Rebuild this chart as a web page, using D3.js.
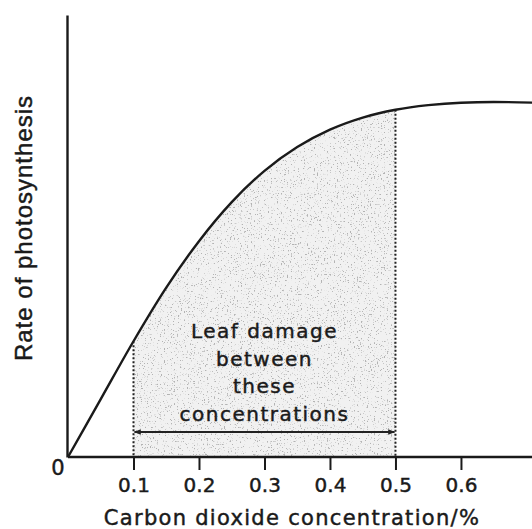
<!DOCTYPE html>
<html>
<head>
<meta charset="utf-8">
<script src="https://cdn.jsdelivr.net/npm/d3@7"></script>
<style>
  body { margin: 0; background: #fff; }
  svg { display: block; }
  text { stroke: #1a1a1a; stroke-width: 0.45px; }
</style>
</head>
<body>
<div id="chart"></div>
<script>
// chart size
var w = 532;
var h = 529;

// data (rate in arbitrary units, plateau ~100)
var conc = [0, 0.05, 0.1, 0.15, 0.2, 0.25, 0.3, 0.35, 0.4, 0.45, 0.5, 0.55, 0.6, 0.65, 0.71];
var rate = [0, 16.3, 32.6, 47.7, 60.8, 71.8, 80.6, 87.3, 92.2, 95.6, 97.8, 99.1, 99.8, 100, 99.8];
var xTicks = [0.1, 0.2, 0.3, 0.4, 0.5, 0.6];
var damageRange = [0.1, 0.5];
var noteLines = ["Leaf damage", "between", "these", "concentrations"];

var points = conc.map(function(c, i) { return { x: c, y: rate[i] }; });

// scales
var xScale = d3.scaleLinear().domain([0, 0.71]).range([68, 533]);
var yScale = d3.scaleLinear().domain([0, 124.5]).range([457, 15]);

var svg = d3.select("#chart")
  .append("svg")
  .attr("width", w)
  .attr("height", h);

var defs = svg.append("defs");

// speckled fill like the printed stipple
var f = defs.append("filter")
  .attr("id", "stipple")
  .attr("x", 0).attr("y", 0).attr("width", 1).attr("height", 1);
f.append("feTurbulence")
  .attr("type", "fractalNoise")
  .attr("baseFrequency", 0.7)
  .attr("numOctaves", 2)
  .attr("seed", 4)
  .attr("result", "noise");
f.append("feColorMatrix")
  .attr("in", "noise")
  .attr("type", "matrix")
  .attr("values", "0 0 0 0 0.45  0 0 0 0 0.45  0 0 0 0 0.45  9 0 0 0 -5.6")
  .attr("result", "dots");
f.append("feComposite")
  .attr("in", "dots")
  .attr("in2", "SourceGraphic")
  .attr("operator", "in");

defs.append("clipPath")
  .attr("id", "damageClip")
  .append("rect")
  .attr("x", xScale(damageRange[0]))
  .attr("y", 0)
  .attr("width", xScale(damageRange[1]) - xScale(damageRange[0]))
  .attr("height", yScale(0));

defs.append("marker")
  .attr("id", "arrow")
  .attr("viewBox", "0 0 10 10")
  .attr("refX", 9)
  .attr("refY", 5)
  .attr("markerWidth", 10)
  .attr("markerHeight", 7)
  .attr("markerUnits", "userSpaceOnUse")
  .attr("orient", "auto-start-reverse")
  .append("path")
  .attr("d", "M0,1 L10,5 L0,9 Z")
  .attr("fill", "#222");

var area = d3.area()
  .x(function(d) { return xScale(d.x); })
  .y0(yScale(0))
  .y1(function(d) { return yScale(d.y); })
  .curve(d3.curveMonotoneX);

var line = d3.line()
  .x(function(d) { return xScale(d.x); })
  .y(function(d) { return yScale(d.y); })
  .curve(d3.curveMonotoneX);

// shaded damage band
var band = svg.append("g").attr("clip-path", "url(#damageClip)");
band.append("path")
  .datum(points)
  .attr("d", area)
  .attr("fill", "#f1f1f1");
band.append("path")
  .datum(points)
  .attr("d", area)
  .attr("fill", "#fff")
  .attr("filter", "url(#stipple)");

// dotted verticals at the edges of the band
function rateAt(c) {
  var i = d3.bisector(function(d) { return d.x; }).left(points, c);
  if (points[i].x === c) return points[i].y;
  var a = points[i - 1], b = points[i];
  return a.y + (b.y - a.y) * (c - a.x) / (b.x - a.x);
}
svg.selectAll(".edge")
  .data(damageRange)
  .enter()
  .append("line")
  .attr("class", "edge")
  .attr("x1", function(d) { return xScale(d); })
  .attr("x2", function(d) { return xScale(d); })
  .attr("y1", function(d) { return yScale(rateAt(d)); })
  .attr("y2", yScale(0))
  .attr("stroke", "#222")
  .attr("stroke-width", 2)
  .attr("stroke-dasharray", "2,2");

// the curve
svg.append("path")
  .datum(points)
  .attr("d", line)
  .attr("fill", "none")
  .attr("stroke", "#1a1a1a")
  .attr("stroke-width", 2.4);

// x axis
var xAxis = svg.append("g")
  .attr("transform", "translate(0," + yScale(0) + ")")
  .call(d3.axisBottom(xScale)
    .tickValues(xTicks)
    .tickSize(13)
    .tickPadding(8)
    .tickFormat(d3.format(".1f")));
xAxis.select(".domain")
  .attr("d", "M" + xScale(0) + ",0H" + w)
  .attr("stroke", "#1a1a1a")
  .attr("stroke-width", 2.4);
xAxis.selectAll(".tick line")
  .attr("stroke", "#1a1a1a")
  .attr("stroke-width", 2);
xAxis.selectAll("text")
  .attr("fill", "#1a1a1a")
  .style("font-family", "DejaVu Sans")
  .style("font-size", "20px");

// y axis (bare line, no ticks)
svg.append("g")
  .attr("transform", "translate(" + (xScale(0) - 1) + ",0)")
  .call(d3.axisLeft(yScale).tickValues([]).tickSizeOuter(0))
  .select(".domain")
  .attr("stroke", "#1a1a1a")
  .attr("stroke-width", 2.4);

// origin label
svg.append("text")
  .attr("x", 58)
  .attr("y", 475)
  .attr("text-anchor", "middle")
  .style("font-family", "DejaVu Sans")
  .style("font-size", "21px")
  .attr("fill", "#1a1a1a")
  .text("0");

// axis titles
svg.append("text")
  .attr("x", 292)
  .attr("y", 525)
  .attr("text-anchor", "middle")
  .style("font-family", "DejaVu Sans")
  .style("font-size", "21px")
  .style("letter-spacing", "1.3px")
  .attr("fill", "#1a1a1a")
  .text("Carbon dioxide concentration/%");

svg.append("text")
  .attr("transform", "translate(32,228) rotate(-90)")
  .attr("text-anchor", "middle")
  .style("font-family", "Liberation Sans")
  .style("font-size", "24px")
  .style("letter-spacing", "1px")
  .attr("fill", "#1a1a1a")
  .text("Rate of photosynthesis");

// annotation
var mid = (xScale(damageRange[0]) + xScale(damageRange[1])) / 2;
svg.selectAll(".note")
  .data(noteLines)
  .enter()
  .append("text")
  .attr("class", "note")
  .attr("x", mid)
  .attr("y", function(d, i) { return 338 + i * 27.7; })
  .attr("text-anchor", "middle")
  .style("font-family", "DejaVu Sans")
  .style("font-size", "20px")
  .style("letter-spacing", "1.5px")
  .attr("fill", "#1a1a1a")
  .text(function(d) { return d; });

svg.append("line")
  .attr("x1", xScale(damageRange[0]) + 1)
  .attr("x2", xScale(damageRange[1]) - 1)
  .attr("y1", 432)
  .attr("y2", 432)
  .attr("stroke", "#222")
  .attr("stroke-width", 2)
  .attr("marker-start", "url(#arrow)")
  .attr("marker-end", "url(#arrow)");
</script>
</body>
</html>
